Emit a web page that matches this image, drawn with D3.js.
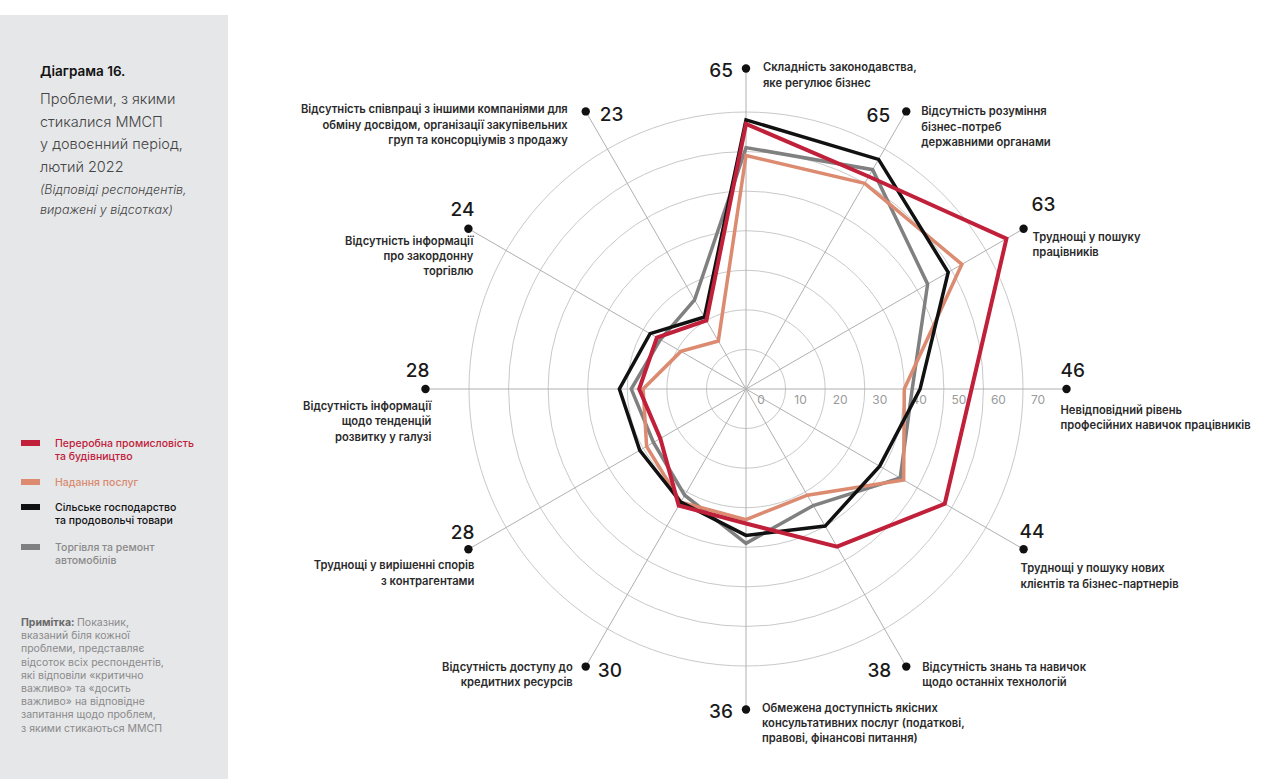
<!DOCTYPE html>
<html><head><meta charset="utf-8">
<script src="https://cdn.jsdelivr.net/npm/d3@7"></script>
<style>body{margin:0;background:#fff;}svg{display:block;font-family:Inter,"Open Sans",sans-serif;}</style>
</head><body><svg id="c" width="1264" height="779"></svg>
<script>
// ---- data ----
const categories = [
  ["Складність законодавства,","яке регулює бізнес"],
  ["Відсутність розуміння","бізнес-потреб","державними органами"],
  ["Труднощі у пошуку","працівників"],
  ["Невідповідний рівень","професійних навичок працівників"],
  ["Труднощі у пошуку нових","клієнтів та бізнес-партнерів"],
  ["Відсутність знань та навичок","щодо останніх технологій"],
  ["Обмежена доступність якісних","консультативних послуг (податкові,","правові, фінансові питання)"],
  ["Відсутність доступу до","кредитних ресурсів"],
  ["Труднощі у вирішенні спорів","з контрагентами"],
  ["Відсутність інформації","щодо тенденцій","розвитку у галузі"],
  ["Відсутність інформації","про закордонну","торгівлю"],
  ["Відсутність співпраці з іншими компаніями для","обміну досвідом, організації закупівельних","груп та консорціумів з продажу"]
];
const totals = [65,65,63,46,44,38,36,30,28,28,24,23];
const seriesNames = [
  ["Переробна промисловість","та будівництво"],
  ["Надання послуг"],
  ["Сільське господарство","та продовольчі товари"],
  ["Торгівля та ремонт","автомобілів"]
];
const manufacturing = [67,62,76,57,58,46,34,34,25,27,26,20];
const services      = [59,60,63,40,46,31,33,33,29,26,19,14];
const agriculture   = [68,67,59,44,39,40,37,33,31,32,28,21];
const trade         = [61,64,53,42,45,34,39,31,27,29,25,26];
const radialTicks = [0,10,20,30,40,50,60,70];

// ---- layout ----
const colors = ["#c0203a","#dc8a70","#111111","#808080"];
const widths = [4,3.5,3.5,3.5];
const svg = d3.select("#c");
const cx = 746, cy = 389;
const r = d3.scaleLinear().domain([0,70]).range([0,277]);
const dotValue = 81;
const ang = d3.scaleLinear().domain([0,categories.length]).range([0,2*Math.PI]);
const px = (i,v)=> cx + r(v)*Math.sin(ang(i));
const py = (i,v)=> cy - r(v)*Math.cos(ang(i));

// left panel
svg.append("rect").attr("x",0).attr("y",15).attr("width",228).attr("height",764).attr("fill","#e6e7e9");
svg.append("text").attr("x",40).attr("y",76).attr("font-size",13.5).attr("font-weight",600).attr("fill","#111").text("Діаграма 16.");
["Проблеми, з якими","стикалися ММСП","у довоєнний період,","лютий 2022"].forEach((t,i)=>
  svg.append("text").attr("x",40).attr("y",104+i*22.5).attr("font-size",14.5).attr("font-weight",300).attr("fill","#444").text(t));
["(Відповіді респондентів,","виражені у відсотках)"].forEach((t,i)=>
  svg.append("text").attr("x",40).attr("y",194+i*20).attr("font-size",12.5).attr("font-style","italic").attr("font-weight",300).attr("fill","#444").text(t));

const legY = [443,482,507,547];
const legTxt = ["#c0203a","#d98a70","#111","#8a8a8a"];
seriesNames.forEach((nm,i)=>{
  svg.append("rect").attr("x",21).attr("y",legY[i]-3).attr("width",19).attr("height",6).attr("fill",colors[i]);
  nm.forEach((t,j)=>svg.append("text").attr("x",55).attr("y",legY[i]+4+j*12.5)
    .attr("font-size",10.5).attr("font-weight",500).attr("fill",legTxt[i]).text(t));
});
const note = ["Показник,","вказаний біля кожної","проблеми, представляє","відсоток всіх респондентів,","які відповіли «критично","важливо» та «досить","важливо» на відповідне","запитання щодо проблем,","з якими стикаються ММСП"];
note.forEach((t,i)=>{
  const tx = svg.append("text").attr("x",21).attr("y",626+i*13.2).attr("font-size",10.5).attr("fill","#8a8a8a");
  if(i===0){ tx.append("tspan").attr("font-weight",700).attr("fill","#6a6a6a").text("Примітка: "); }
  tx.append("tspan").text(t);
});

// grid
const g = svg.append("g");
g.selectAll("circle.grid").data(radialTicks.filter(d=>d>0)).enter().append("circle")
  .attr("cx",cx).attr("cy",cy).attr("r",d=>r(d)).attr("fill","none").attr("stroke","#c9c9c9").attr("stroke-width",1);
g.selectAll("line.spoke").data(categories).enter().append("line")
  .attr("x1",cx).attr("y1",cy).attr("x2",(d,i)=>px(i,dotValue)).attr("y2",(d,i)=>py(i,dotValue))
  .attr("stroke","#b0b0b0").attr("stroke-width",1);
g.selectAll("text.tick").data(radialTicks).enter().append("text")
  .attr("x",d=>cx+r(d)+15).attr("y",404).attr("text-anchor","middle").attr("font-size",12).attr("fill","#9a9a9a").text(d=>d);

// series
const line = d3.lineRadial().angle((d,i)=>ang(i)).radius(d=>r(d)).curve(d3.curveLinearClosed);
const series = [trade, services, agriculture, manufacturing];
const order = [3,1,2,0];
series.forEach((s,k)=>{
  const i = order[k];
  g.append("path").attr("transform",`translate(${cx},${cy})`).attr("d",line(s))
   .attr("fill","none").attr("stroke",colors[i]).attr("stroke-width",widths[i]).attr("stroke-linejoin","miter");
});

// dots + labels
// per-axis label layout: [number dx, number dy, number anchor, text dx, text dy, text anchor]
const lay = [
  [-13,9,"end",17,3,"start"],
  [-16,11,"end",15,4,"start"],
  [8,-18,"start",9,12,"start"],
  [-6,-12,"start",-6,25,"start"],
  [-4,-11,"start",-3,23,"start"],
  [-15,10,"end",16,4,"start"],
  [-13,8,"end",16,2,"start"],
  [12,10,"start",-13,4,"end"],
  [6,-10,"end",6,20,"end"],
  [4,-12,"end",6,21,"end"],
  [6,-13,"end",5,16,"end"],
  [14,10,"start",-18,2,"end"]
];
categories.forEach((c,i)=>{
  const x = px(i,dotValue), y = py(i,dotValue), L = lay[i];
  g.append("circle").attr("cx",x).attr("cy",y).attr("r",4.2).attr("fill","#111");
  g.append("text").attr("x",x+L[0]).attr("y",y+L[1]).attr("text-anchor",L[2])
    .attr("font-size",19).attr("font-weight",500).attr("fill","#1a1a1a").text(totals[i]);
  c.forEach((t,j)=>g.append("text").attr("x",x+L[3]).attr("y",y+L[4]+j*15.3).attr("text-anchor",L[5])
    .attr("font-size",11.2).attr("font-weight",600).attr("fill","#2a2a2a").text(t));
});
</script></body></html>
